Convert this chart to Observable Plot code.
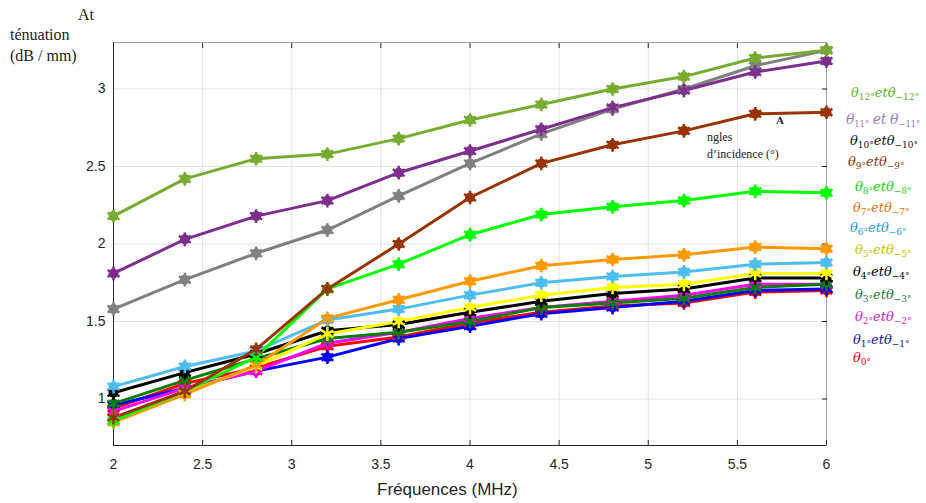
<!DOCTYPE html>
<html>
<head>
<meta charset="utf-8">
<script src="https://cdn.jsdelivr.net/npm/d3@7"></script>
<script src="https://cdn.jsdelivr.net/npm/@observablehq/plot@0.6"></script>
<style>
  body { margin: 0; background: white; }
  #wrap { position: relative; width: 926px; height: 503px; overflow: hidden; }
  .ann { position: absolute; font-family: "Liberation Serif", "DejaVu Serif", serif; color: #222; white-space: nowrap; line-height: 1; }
  .leg { position: absolute; font-family: "DejaVu Serif", serif; font-style: italic; font-size: 13px; white-space: nowrap; line-height: 1; }
  .leg sub { font-size: 9px; vertical-align: -3px; font-style: normal; }
  .xl { position: absolute; font-family: "Liberation Sans", sans-serif; font-size: 17px; color: #262626; white-space: nowrap; line-height: 1; }
</style>
</head>
<body>
<div id="wrap"></div>
<script>
// ---- data ----
const freqs = [2, 2.4, 2.8, 3.2, 3.6, 4, 4.4, 4.8, 5.2, 5.6, 6];
const theta0  = [0.94, 1.10, 1.20, 1.34, 1.40, 1.49, 1.56, 1.60, 1.62, 1.69, 1.70];
const theta1  = [0.96, 1.07, 1.18, 1.27, 1.39, 1.47, 1.55, 1.59, 1.63, 1.70, 1.71];
const theta2  = [0.92, 1.07, 1.18, 1.36, 1.43, 1.52, 1.59, 1.63, 1.67, 1.74, 1.74];
const theta3  = [0.97, 1.12, 1.26, 1.39, 1.43, 1.50, 1.59, 1.62, 1.65, 1.72, 1.74];
const theta4  = [1.04, 1.17, 1.29, 1.44, 1.48, 1.56, 1.63, 1.68, 1.71, 1.78, 1.78];
const theta5  = [0.88, 1.04, 1.21, 1.42, 1.50, 1.59, 1.67, 1.72, 1.74, 1.81, 1.81];
const theta6  = [1.08, 1.21, 1.31, 1.51, 1.58, 1.67, 1.75, 1.79, 1.82, 1.87, 1.88];
const theta7  = [0.85, 1.03, 1.22, 1.52, 1.64, 1.76, 1.86, 1.90, 1.93, 1.98, 1.97];
const theta8  = [0.86, 1.05, 1.27, 1.71, 1.87, 2.06, 2.19, 2.24, 2.28, 2.34, 2.33];
const theta9  = [0.88, 1.05, 1.32, 1.71, 2.00, 2.30, 2.52, 2.64, 2.73, 2.84, 2.85];
const theta10 = [1.58, 1.77, 1.94, 2.09, 2.31, 2.52, 2.71, 2.87, 3.00, 3.15, 3.25];
const theta11 = [1.81, 2.03, 2.18, 2.28, 2.46, 2.60, 2.74, 2.88, 2.99, 3.11, 3.18];
const theta12 = [2.18, 2.42, 2.55, 2.58, 2.68, 2.80, 2.90, 3.00, 3.08, 3.20, 3.25];

const seriesNames = ["θ0", "θ1", "θ2", "θ3", "θ4", "θ5", "θ6", "θ7", "θ8", "θ9", "θ10", "θ11", "θ12"];
const seriesValues = [theta0, theta1, theta2, theta3, theta4, theta5, theta6, theta7, theta8, theta9, theta10, theta11, theta12];
const lineColors = ["#ff0000", "#0000ff", "#ff00ff", "#008000", "#000000", "#ffff00", "#4dbeee", "#ff9900", "#00ff00", "#993300", "#808080", "#7e2f8e", "#77ac30"];

const xTicks = [2, 2.5, 3, 3.5, 4, 4.5, 5, 5.5, 6];
const yTicks = [1, 1.5, 2, 2.5, 3];

// legend labels (top to bottom): [main, sub1, mid, sub2]
const legendLabels = [
  ["θ", "12°", "etθ", "−12°"],
  ["θ", "11°", " et θ", "−11°"],
  ["θ", "10°", "etθ", "−10°"],
  ["θ", "9°", "etθ", "−9°"],
  ["θ", "8°", "etθ", "−8°"],
  ["θ", "7°", "etθ", "−7°"],
  ["θ", "6°", "etθ", "−6°"],
  ["θ", "5°", "etθ", "−5°"],
  ["θ", "4°", "etθ", "−4°"],
  ["θ", "3°", "etθ", "−3°"],
  ["θ", "2°", "etθ", "−2°"],
  ["θ", "1°", "etθ", "−1°"],
  ["θ", "0°", "", ""]
];
const legendColors = ["#5bb318", "#9a7fbf", "#111111", "#8a3a0a", "#10d010", "#e0700a", "#1aa0e0", "#c8c400", "#000000", "#1a7a3a", "#d020c8", "#1010a0", "#e00000"];

const yLabelLines = ["At", "ténuation", "(dB / mm)"];
const xLabel = "Fréquences (MHz)";
const noteLines = ["A", "ngles", "d’incidence (°)"];

// ---- table ----
const rows = [];
seriesNames.forEach((name, i) => {
  freqs.forEach((f, j) => rows.push({series: name, f, v: seriesValues[i][j]}));
});

const chart = Plot.plot({
  width: 926,
  height: 503,
  marginLeft: 113,
  marginRight: 100,
  marginTop: 42,
  marginBottom: 58,
  x: {domain: [2, 6]},
  y: {domain: [0.7, 3.3]},
  color: {domain: seriesNames, range: lineColors},
  style: {fontFamily: "Liberation Sans, sans-serif", fontSize: "14px", color: "#262626", background: "white"},
  marks: [
    Plot.gridX(xTicks, {stroke: "#e2e2e2", strokeOpacity: 1}),
    Plot.gridY(yTicks, {stroke: "#e2e2e2", strokeOpacity: 1}),
    Plot.frame({stroke: "#a0a0a0"}),
    Plot.ruleX([2], {stroke: "#262626"}),
    Plot.ruleY([0.7], {stroke: "#262626"}),
    Plot.axisX(xTicks, {anchor: "bottom", tickSize: 0, tickPadding: 14, tickFormat: d => String(d), label: null}),
    Plot.axisX(xTicks, {anchor: "bottom", tickSize: -5, tickFormat: () => "", label: null, stroke: "#262626"}),
    Plot.axisX(xTicks, {anchor: "top", tickSize: -5, tickFormat: () => "", label: null, stroke: "#262626"}),
    Plot.axisY(yTicks, {anchor: "left", tickSize: 0, tickPadding: 8, tickFormat: d => String(d), label: null}),
    Plot.axisY(yTicks, {anchor: "right", tickSize: -5, tickFormat: () => "", label: null, stroke: "#262626"}),
    Plot.line(rows, {x: "f", y: "v", z: "series", stroke: "series", strokeWidth: 3}),
    Plot.dot(rows, {x: "f", y: "v", fill: "series", r: 5}),
    Plot.dot(rows, {x: "f", y: "v", stroke: "series", symbol: "asterisk", r: 6.5, strokeWidth: 2.5})
  ]
});

const wrap = document.getElementById("wrap");
wrap.appendChild(chart);

function addDiv(cls, html, left, top, extra) {
  const d = document.createElement("div");
  d.className = cls;
  d.innerHTML = html;
  d.style.left = left + "px";
  d.style.top = top + "px";
  if (extra) Object.assign(d.style, extra);
  wrap.appendChild(d);
  return d;
}

// y label (split as in the reference)
addDiv("ann", yLabelLines[0], 78, 7, {fontSize: "16px"});
addDiv("ann", yLabelLines[1], 10, 27, {fontSize: "16px"});
addDiv("ann", yLabelLines[2], 10, 48, {fontSize: "16px"});

// x label
addDiv("xl", xLabel, 377, 481);

// inline note
addDiv("ann", noteLines[0], 776, 115, {fontSize: "11px", fontWeight: "bold"});
addDiv("ann", noteLines[1], 707, 131, {fontSize: "12px"});
addDiv("ann", noteLines[2], 707, 148, {fontSize: "12px"});

// legend
const legendPos = [[851, 86], [846, 112], [850, 134], [848, 155], [855, 180], [853, 201], [850, 221], [855, 243], [853, 265], [855, 288], [855, 310], [853, 333], [853, 351]];
legendLabels.forEach((p, i) => {
  const html = p[2] === ""
    ? `${p[0]}<sub>${p[1]}</sub>`
    : `${p[0]}<sub>${p[1]}</sub>${p[2]}<sub>${p[3]}</sub>`;
  const extra = {color: legendColors[i]};
  if (i === 1) { extra.fontSize = "14px"; extra.letterSpacing = "-0.4px"; }
  addDiv("leg", html, legendPos[i][0], legendPos[i][1], extra);
});
</script>
</body>
</html>
